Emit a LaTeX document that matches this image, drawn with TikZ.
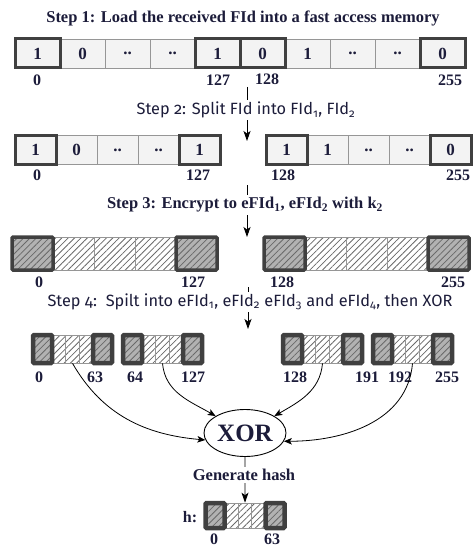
\documentclass[tikz,border=0pt]{standalone}
\usepackage{fontspec}
\setmainfont{Liberation Serif}
\newfontfamily\candfont[Numbers=OldStyle]{Fira Sans}
\usetikzlibrary{patterns.meta,arrows.meta,shapes.geometric}
\definecolor{txt}{RGB}{28,28,58}
\definecolor{thinc}{RGB}{150,150,150}
\definecolor{thickc}{RGB}{64,64,64}
\definecolor{cellfill}{RGB}{243,243,243}
\definecolor{endfill}{RGB}{178,178,178}
\definecolor{hatchc}{RGB}{105,105,105}
\tikzset{
  lbl/.style={font=\bfseries\fontsize{16}{16}\selectfont, text=txt, inner sep=0pt},
  ttl/.style={font=\bfseries\fontsize{16.5}{18}\selectfont, text=txt, fill=white, inner sep=2pt},
  sttl/.style={font=\candfont\fontsize{16.3}{18}\selectfont, text=txt, fill=white, inner sep=2pt},
  bitcell/.style={draw=thinc, fill=cellfill, line width=0.8pt, minimum height=29pt, inner sep=0pt,
    font=\bfseries\fontsize{17}{17}\selectfont, text=txt},
  bitthick/.style={bitcell, draw=thickc, line width=3pt},
  midcell/.style={draw=thinc, line width=0.7pt, inner sep=0pt, fill=white,
    pattern={Lines[angle=45,distance=4.5pt,line width=0.8pt]}, pattern color=hatchc},
  endcell/.style={draw=thickc, line width=3.5pt, inner sep=0pt, rounded corners=1pt,
    preaction={fill=endfill}, pattern={Lines[angle=45,distance=4.5pt,line width=0.8pt]}, pattern color=hatchc},
  flow/.style={line width=0.9pt, -{Stealth[length=10pt,width=7pt,inset=2.5pt]}},
  xflow/.style={line width=0.8pt, -{Stealth[length=8pt,width=6.5pt,inset=2pt]}},
}
% hatched row: #1 name, #2 left x, #3 centre y, #4 end width, #5 mid width, #6 height, #7 end line width
\newcommand\hatchrow[7]{%
  \node[midcell, minimum width=#5pt, minimum height=#6pt] (#1-2) at ({#2+#4+0.5*#5},#3) {};
  \node[midcell, minimum width=#5pt, minimum height=#6pt] (#1-3) at ({#2+#4+1.5*#5},#3) {};
  \node[midcell, minimum width=#5pt, minimum height=#6pt] (#1-4) at ({#2+#4+2.5*#5},#3) {};
  \node[endcell, line width=#7pt, minimum width=#4pt, minimum height=#6pt] (#1-1) at ({#2+0.5*#4},#3) {};
  \node[endcell, line width=#7pt, minimum width=#4pt, minimum height=#6pt] (#1-5) at ({#2+1.5*#4+3*#5},#3) {};
}
\begin{document}
\begin{tikzpicture}[x=1pt,y=-1pt]
\useasboundingbox (0,0) rectangle (474,548);

% ---------- Step 1 ----------
\node[ttl] (t1) at (243,18) {Step 1: Load the received FId into a fast access memory};
\foreach \i/\v in {2/0,3/..,4/..,7/1,8/..,9/..} {
  \node[bitcell, minimum width=45pt] (r1-\i) at ({15+45*(\i-0.5)},53.5) {\v};
}
\foreach \i/\v in {1/1,5/1,6/0,10/0} {
  \node[bitthick, minimum width=45pt] (r1-\i) at ({15+45*(\i-0.5)},53.5) {\v};
}
\node[lbl] (l1a) at (37,80) {0};
\node[lbl] (l1b) at (218,80) {127};
\node[lbl] (l1c) at (267,79) {128};
\node[lbl] (l1d) at (450,80) {255};

% ---------- Step 2 ----------
\coordinate (a1s) at (247,87);
\coordinate (a1e) at (247,141);
\draw[flow] (a1s) -- (a1e);
\node[sttl] (t2) at (246,110) {Step 2: Split FId into FId\textsubscript{1}, FId\textsubscript{2}};
\foreach \i/\v in {2/0,3/..,4/..} {
  \node[bitcell, minimum width=41pt] (r2l-\i) at ({15+41*(\i-0.5)},150) {\v};
}
\foreach \i/\v in {1/1,5/1} {
  \node[bitthick, minimum width=41pt] (r2l-\i) at ({15+41*(\i-0.5)},150) {\v};
}
\foreach \i/\v in {2/1,3/..,4/..} {
  \node[bitcell, minimum width=41pt] (r2r-\i) at ({266+41*(\i-0.5)},150) {\v};
}
\foreach \i/\v in {1/1,5/0} {
  \node[bitthick, minimum width=41pt] (r2r-\i) at ({266+41*(\i-0.5)},150) {\v};
}
\node[lbl] (l2a) at (37,175) {0};
\node[lbl] (l2b) at (198,175) {127};
\node[lbl] (l2c) at (283,175) {128};
\node[lbl] (l2d) at (458,175) {255};

% ---------- Step 3 ----------
\coordinate (a2s) at (247,185);
\coordinate (a2e) at (247,237);
\draw[flow] (a2s) -- (a2e);
\node[ttl] (t3) at (245,205) {Step 3: Encrypt to eFId\textsubscript{1}, eFId\textsubscript{2} with k\textsubscript{2}};
\hatchrow{r3l}{12}{253.5}{41}{41}{33}{3.5}
\hatchrow{r3r}{264}{253.5}{41}{41}{33}{3.5}
\node[lbl] (l3a) at (39,282) {0};
\node[lbl] (l3b) at (193,282) {127};
\node[lbl] (l3c) at (282,282) {128};
\node[lbl] (l3d) at (453,282) {255};

% ---------- Step 4 ----------
\coordinate (a3s) at (248,287);
\coordinate (a3e) at (248,329);
\draw[flow] (a3s) -- (a3e);
\node[sttl] (t4) at (250,302) {Step 4:\ \ Spilt into eFId\textsubscript{1}, eFId\textsubscript{2} eFId\textsubscript{3} and eFId\textsubscript{4}, then XOR};
\hatchrow{b1}{33}{349}{19}{13.67}{28}{4.5}
\hatchrow{b2}{123}{349}{19}{13.67}{28}{4.5}
\hatchrow{b3}{283}{349}{19}{13.67}{28}{4.5}
\hatchrow{b4}{373}{349}{19}{13.67}{28}{4.5}
\node[lbl] (l4a) at (39,377) {0};
\node[lbl] (l4b) at (95,377) {63};
\node[lbl] (l4c) at (135,377) {64};
\node[lbl] (l4d) at (193,377) {127};
\node[lbl] (l4e) at (295,377) {128};
\node[lbl] (l4f) at (367,377) {191};
\node[lbl] (l4g) at (400,377) {192};
\node[lbl] (l4h) at (447,377) {255};

% ---------- XOR ----------
\node[ellipse, draw, line width=0.9pt, minimum width=82pt, minimum height=47pt, inner sep=0pt,
  font=\bfseries\fontsize{25}{25}\selectfont, text=txt] (xor) at (245,433) {XOR};
\draw[xflow] (b1-3.south) to[out=-60,in=175] (xor.190);
\draw[xflow] (b2-3.south) to[out=-85,in=150] (xor.150);
\draw[xflow] (b3-3.south) to[out=-95,in=30] (xor.30);
\draw[xflow] (b4-3.south) to[out=-95,in=0] (xor.-12);

% ---------- hash ----------
\hatchrow{h}{205.5}{515.5}{19}{13.67}{25}{4.5}
\draw[flow] (xor.south) -- (h-3.north);
\node[ttl] (t5) at (244,475) {Generate hash};
\node[lbl] (lh) at (190,517) {h:};
\node[lbl] (lh0) at (214,539) {0};
\node[lbl] (lh1) at (272,539) {63};
\end{tikzpicture}
\end{document}
